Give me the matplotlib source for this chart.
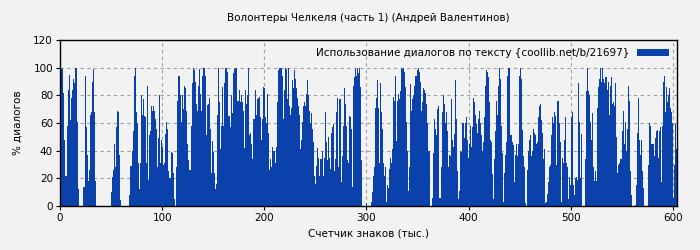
import matplotlib
matplotlib.use("Agg")
import matplotlib.pyplot as plt
import numpy as np

title = "Волонтеры Челкеля (часть 1) (Андрей Валентинов)"
xlabel = "Счетчик знаков (тыс.)"
ylabel = "% диалогов"
legend_label = "Использование диалогов по тексту {coollib.net/b/21697}"

seg01 = [100,100,99,82,48,22,22,58,84,95,62,78,84,92,89,100,100,61,12,
         0,0,0,0,
         14,94,57,37,18,26,66,68,90,99,68,18,
         0,0,0,0,0,0,0,0,0,0,0,0,0,0,0,
         10,21,26]
seg02 = [45,28,57,69,68,37,4,
         0,0,0,0,0,0,0,0,
         8,29,40,54,94,100,68,60,31,12,31,80,66,77,65,64,31,87,19,51,54,72,69,72,
         69,63,56,28,49,80,31,48,43,30,31,52,61,56,25,20]
seg03 = [20,39,38,24,5,0,
         28,76,94,80,61,80,70,87,85,69,45,33,26,26,58,89,100,98,90,74,69,87,99,81,
         69,94,100,100,94,51,73,74,78,56,24,47,39,24,12,16,66,100,75,41,58,86,58,89,100]
seg04 = [97,65,65,57,80,67,96,99,100,100,76,76,84,75,80,75,69,42,84,74,80,100,51,53,
         45,34,63,63,84,66,77,78,79,64,48,63,86,85,64,60,81,53,26,34,28,43,40,31,43,
         75,98,100,100,100,94]
seg05 = [63,84,100,99,77,100,72,66,71,91,85,98,92,85,78,72,66,41,48,61,72,75,72,81,
         91,80,69,60,67,56,46,22,16,29,42,35,22,34,40,22,35,68,46,33,50,35,27,53,57,
         59,25,34,68,78,28]
seg06 = [77,77,17,36,58,85,74,58,33,31,65,64,56,14,87,93,99,94,100,96,100,86,33,
         0,0,0,0,2,0,0,0,
         3,10,22,28,71,78,91,71,31,89,68,56,31,22,28,3,15,13,27,35,31,41,79,76]
seg07 = [94,47,76,81,77,83,100,99,100,97,86,61,40,11,28,88,69,77,80,87,94,98,100,97,
         90,69,75,85,84,82,74,60,40,40,0,0,6,38,63,56,51,70,72,6,6,28,68,80,74,60,68,
         54,28,37,36]
seg08 = [77,48,43,52,91,63,25,5,11,40,39,60,49,60,64,48,35,45,58,43,57,78,75,66,59,
         53,63,69,60,51,40,46,64,87,98,97,93,75,48,46,23,5,34,54,76,66,87,100,92,58,
         38,3,24,37,46]
seg09 = [94,100,100,51,46,44,17,37,45,36,45,94,100,92,55,36,28,2,0,26,40,48,51,36,
         40,56,53,51,45,46,64,72,74,62,53,34,41,2,3,9,17,28,30,51,64,60,68,65,30,76,
         60,46,3,35,31]
seg10 = [48,64,31,28,5,21,15,64,68,15,8,20,21,19,89,61,20,52,0,0,0,34,83,100,83,80,
         61,48,67,28,18,25,18,71,86,92,100,90,100,92,89,93,84,90,66,87,93,74,75,72,89,
         50,24,30,31]
seg11 = [34,34,54,69,45,61,40,56,87,76,25,8,0,0,0,1,15,53,78,48,37,48,25,13,
         0,0,0,0,
         30,60,58,45,45,36,49,54,55,35,54,57,17,58,90,94,68,86,75,80,85,71,68,60,6,30,
         59,41]

values = (seg01 + seg02 + seg03 + seg04 + seg05 + seg06 + seg07 + seg08 + seg09
          + seg10 + seg11)
positions = np.arange(len(values))

yticks = [0, 20, 40, 60, 80, 100, 120]
xticks = [0, 100, 200, 300, 400, 500, 600]

bg = "#f2f2f2"
bar_color = "#0a41ab"

plt.rcParams["font.family"] = ["DejaVu Sans"]
fig = plt.figure(figsize=(7, 2.5), dpi=100, facecolor=bg)
ax = fig.add_axes([60/700, 1-206/250, (677-60)/700, (206-40)/250])
ax.set_facecolor(bg)

ax.bar(positions, values, width=1.0, align="edge", color=bar_color,
       linewidth=0, antialiased=False, label=legend_label, zorder=2)

ax.set_xlim(0, len(values))
ax.set_ylim(0, 120)
ax.set_xticks(xticks)
ax.set_yticks(yticks)
ax.tick_params(direction="out", length=3, width=0.8, labelsize=7.5, pad=2)
ax.grid(True, color="#a0a0a0", linestyle=(0, (3, 3)), linewidth=0.8, zorder=0)
ax.set_axisbelow(True)
for s in ax.spines.values():
    s.set_linewidth(1.0)
    s.set_color("black")

ax.set_title(title, fontsize=7.5, pad=14)
ax.set_xlabel(xlabel, fontsize=7.5, labelpad=4)
ax.set_ylabel(ylabel, fontsize=7.5, labelpad=8)

leg = ax.legend(loc="upper right", frameon=False, markerfirst=False,
                fontsize=7.5, handlelength=3.0, handleheight=0.6,
                borderaxespad=0.6, borderpad=0.2, handletextpad=0.8)

fig.savefig("out.png", dpi=100, facecolor=bg)
